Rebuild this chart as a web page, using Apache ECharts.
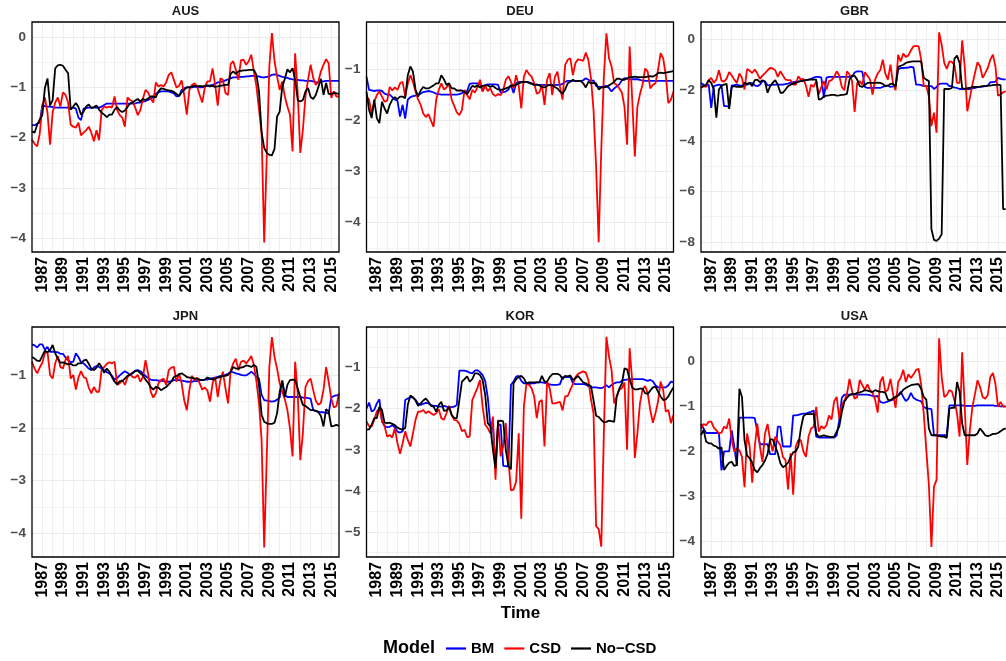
<!DOCTYPE html>
<html><head><meta charset="utf-8">
<script src="https://cdn.jsdelivr.net/npm/echarts@6/dist/echarts.min.js"></script>
<style>html,body{margin:0;padding:0;background:#fff}#c{width:1006px;height:661px}</style>
</head><body><div id="c"></div>
<script>
// Quarterly series, first observation 1986 Q1
const START_YEAR = 1986;
const QUARTERS_PER_YEAR = 4;
const countries = ['AUS','DEU','GBR','JPN','KOR','USA'];
const models = ['BM','CSD','No\u2212CSD'];
const xTickYears = [1987,1989,1991,1993,1995,1997,1999,2001,2003,2005,2007,2009,2011,2013,2015];

const AUS_BM = [-1.75,-1.75,-1.72,-1.7,-1.35,-1.37,-1.38,-1.38,-1.39,-1.4,
-1.4,-1.4,-1.4,-1.4,-1.4,-1.41,-1.4,-1.42,-1.6,-1.65,
-1.42,-1.41,-1.4,-1.4,-1.4,-1.4,-1.4,-1.38,-1.35,-1.32,
-1.32,-1.32,-1.32,-1.32,-1.32,-1.32,-1.32,-1.32,-1.32,-1.32,
-1.32,-1.3,-1.3,-1.28,-1.27,-1.25,-1.22,-1.2,-1.12,-1.1,
-1.08,-1.08,-1.08,-1.08,-1.1,-1.12,-1.18,-1.17,-1.05,-1.02,
-1.0,-1.0,-1.0,-0.99,-0.99,-1.0,-1.0,-0.98,-0.97,-0.96,
-0.95,-0.93,-0.9,-0.89,-0.88,-0.86,-0.84,-0.82,-0.8,-0.8,
-0.79,-0.79,-0.79,-0.78,-0.78,-0.77,-0.77,-0.78,-0.78,-0.8,
-0.8,-0.79,-0.78,-0.75,-0.74,-0.75,-0.77,-0.79,-0.8,-0.81,
-0.83,-0.84,-0.85,-0.85,-0.86,-0.86,-0.87,-0.87,-0.87,-0.88,
-0.9,-0.9,-0.88,-0.88,-0.87,-0.87,-0.87,-0.87,-0.87,-0.87];
const AUS_CSD = [-2.04,-2.12,-2.17,-1.92,-1.35,-1.2,-1.5,-2.14,-1.5,-1.3,
-1.2,-1.38,-1.1,-1.15,-1.3,-1.74,-1.78,-1.8,-1.7,-1.95,
-1.9,-1.85,-1.78,-1.9,-2.07,-1.85,-2.05,-1.45,-1.38,-1.4,
-1.38,-1.4,-1.18,-1.45,-1.55,-1.6,-1.78,-1.2,-1.25,-1.28,
-1.4,-1.55,-1.45,-1.22,-1.05,-1.1,-1.22,-1.3,-0.9,-0.98,
-0.95,-0.98,-0.9,-0.75,-0.7,-0.85,-1.0,-0.97,-0.86,-1.15,
-1.54,-1.05,-0.95,-0.92,-0.98,-1.15,-1.3,-1.0,-0.88,-0.88,
-0.62,-0.95,-1.36,-0.82,-0.85,-1.11,-1.15,-0.53,-0.48,-0.65,
-0.85,-0.46,-0.45,-0.55,-0.48,-0.35,-0.68,-0.98,-1.44,-1.9,
-4.08,-2.37,-0.58,0.08,-0.48,-0.78,-1.05,-0.88,-1.18,-1.38,
-1.54,-2.27,-0.32,-1.11,-2.3,-1.84,-1.18,-0.85,-0.55,-0.81,
-0.95,-0.88,-0.68,-0.55,-0.44,-0.52,-1.21,-1.08,-1.18,-1.18];
const AUS_NOCSD = [-1.87,-1.9,-1.74,-1.64,-1.55,-1.01,-0.82,-1.36,-1.25,-0.62,
-0.56,-0.55,-0.57,-0.65,-0.72,-1.44,-1.38,-1.31,-1.39,-1.54,
-1.48,-1.38,-1.34,-1.41,-1.39,-1.36,-1.44,-1.5,-1.54,-1.59,
-1.54,-1.54,-1.44,-1.39,-1.46,-1.49,-1.46,-1.39,-1.32,-1.3,
-1.26,-1.23,-1.28,-1.23,-1.25,-1.22,-1.18,-1.18,-1.2,-1.08,
-1.02,-1.03,-1.05,-1.06,-1.07,-1.09,-1.13,-1.17,-1.1,-1.05,
-1.0,-1.0,-0.98,-0.97,-0.98,-0.97,-0.98,-0.97,-0.96,-0.98,
-0.97,-0.99,-0.98,-0.97,-0.96,-0.95,-0.95,-0.73,-0.68,-0.73,
-0.68,-0.67,-0.66,-0.66,-0.65,-0.65,-0.65,-0.75,-1.08,-1.9,
-2.2,-2.3,-2.34,-2.35,-2.22,-1.58,-1.48,-0.99,-0.83,-0.64,
-0.7,-0.62,-0.85,-1.25,-1.28,-1.25,-1.08,-1.01,-1.19,-1.23,
-1.15,-0.99,-0.83,-1.15,-0.91,-1.13,-1.13,-1.11,-1.12,-1.13];

const DEU_BM = [-1.15,-1.41,-1.42,-1.43,-1.42,-1.42,-1.43,-1.48,-1.5,-1.5,
-1.55,-1.6,-1.62,-1.93,-1.7,-1.97,-1.6,-1.55,-1.53,-1.52,
-1.5,-1.48,-1.45,-1.44,-1.43,-1.44,-1.46,-1.48,-1.49,-1.5,
-1.5,-1.5,-1.5,-1.5,-1.5,-1.5,-1.49,-1.47,-1.44,-1.43,
-1.29,-1.28,-1.28,-1.28,-1.3,-1.43,-1.32,-1.3,-1.3,-1.3,
-1.3,-1.31,-1.46,-1.45,-1.44,-1.4,-1.31,-1.47,-1.28,-1.25,
-1.25,-1.25,-1.25,-1.26,-1.28,-1.31,-1.31,-1.31,-1.31,-1.31,
-1.31,-1.31,-1.31,-1.31,-1.31,-1.31,-1.29,-1.25,-1.23,-1.23,
-1.23,-1.23,-1.23,-1.23,-1.22,-1.18,-1.21,-1.24,-1.22,-1.33,
-1.35,-1.35,-1.34,-1.33,-1.37,-1.44,-1.38,-1.34,-1.3,-1.22,
-1.18,-1.19,-1.2,-1.2,-1.2,-1.2,-1.21,-1.23,-1.23,-1.23,
-1.23,-1.23,-1.23,-1.23,-1.23,-1.23,-1.23,-1.23,-1.23,-1.23];
const DEU_CSD = [-1.54,-1.6,-1.87,-1.64,-1.51,-1.44,-1.54,-1.64,-1.62,-1.35,
-1.42,-1.36,-1.41,-1.28,-1.25,-1.53,-1.29,-1.12,-1.25,-1.44,
-1.6,-1.7,-1.87,-1.94,-1.88,-2.01,-2.13,-1.6,-1.41,-1.28,
-1.4,-1.36,-1.29,-1.6,-1.72,-1.85,-1.9,-1.8,-1.41,-1.51,
-1.59,-1.41,-1.46,-1.36,-1.21,-1.44,-1.33,-1.43,-1.38,-1.49,
-1.53,-1.49,-1.51,-1.41,-1.21,-1.14,-1.25,-1.38,-1.12,-1.33,
-1.77,-1.15,-1.02,-1.1,-1.15,-1.28,-1.48,-1.46,-1.31,-1.7,
-1.21,-1.08,-1.51,-1.16,-1.05,-1.35,-1.6,-0.92,-0.82,-0.79,
-1.12,-0.88,-0.81,-0.82,-0.84,-0.68,-0.82,-1.18,-1.8,-2.91,
-4.39,-2.58,-1.15,-0.3,-0.79,-0.95,-1.28,-1.31,-1.38,-1.46,
-1.74,-2.48,-0.56,-1.6,-2.71,-1.74,-1.49,-1.31,-0.99,-1.05,
-1.38,-1.31,-1.28,-1.02,-0.69,-0.79,-1.12,-1.67,-1.6,-1.44];
const DEU_NOCSD = [-1.44,-1.8,-1.96,-1.6,-1.96,-2.06,-1.64,-1.77,-1.87,-1.7,
-1.6,-1.55,-1.59,-1.54,-1.54,-1.57,-1.12,-0.95,-1.05,-1.4,
-1.54,-1.42,-1.35,-1.38,-1.38,-1.35,-1.32,-1.28,-1.28,-1.12,
-1.2,-1.31,-1.28,-1.38,-1.38,-1.42,-1.42,-1.42,-1.45,-1.49,
-1.41,-1.33,-1.35,-1.32,-1.36,-1.33,-1.32,-1.32,-1.35,-1.33,
-1.37,-1.4,-1.41,-1.4,-1.38,-1.36,-1.33,-1.32,-1.31,-1.28,
-1.26,-1.25,-1.25,-1.27,-1.29,-1.31,-1.3,-1.32,-1.35,-1.36,
-1.33,-1.31,-1.32,-1.35,-1.38,-1.44,-1.48,-1.4,-1.28,-1.25,
-1.21,-1.24,-1.23,-1.23,-1.28,-1.36,-1.25,-1.28,-1.27,-1.28,
-1.4,-1.36,-1.36,-1.35,-1.32,-1.29,-1.25,-1.19,-1.19,-1.21,
-1.21,-1.18,-1.16,-1.16,-1.15,-1.16,-1.16,-1.16,-1.16,-1.15,
-1.14,-1.15,-1.12,-1.08,-1.07,-1.08,-1.07,-1.06,-1.05,-1.04];

const GBR_BM = [-1.71,-1.78,-1.84,-1.78,-2.7,-1.84,-1.81,-1.78,-1.81,-2.63,
-2.63,-2.66,-1.81,-1.8,-1.78,-1.81,-1.82,-1.81,-1.78,-1.72,
-1.72,-1.81,-1.84,-1.78,-1.64,-1.64,-1.81,-1.8,-1.79,-1.78,
-1.78,-1.78,-1.78,-1.76,-1.74,-1.7,-1.68,-1.66,-1.65,-1.64,
-1.62,-1.6,-1.58,-1.55,-1.5,-1.47,-1.47,-1.5,-2.3,-1.5,
-1.47,-1.47,-1.47,-1.47,-1.47,-1.47,-1.47,-1.47,-1.47,-1.47,
-1.3,-1.25,-1.25,-1.26,-1.87,-1.91,-1.91,-1.91,-1.91,-1.91,
-1.91,-1.87,-1.82,-1.82,-1.87,-1.85,-1.82,-1.18,-1.12,-1.12,
-1.11,-1.1,-1.08,-1.1,-1.78,-1.78,-1.8,-1.84,-1.84,-1.84,
-1.84,-1.95,-1.87,-1.75,-1.74,-1.74,-1.74,-1.84,-1.84,-1.9,
-1.91,-1.95,-1.95,-1.95,-1.95,-1.95,-1.93,-1.91,-1.88,-1.87,
-1.86,-1.84,-1.82,-1.68,-1.68,-1.66,-1.51,-1.55,-1.57,-1.57];
const GBR_CSD = [-1.91,-1.84,-1.87,-1.6,-1.51,-1.71,-1.58,-1.21,-1.62,-1.66,
-1.54,-1.28,-1.42,-1.58,-1.71,-1.34,-1.51,-1.97,-1.16,-1.22,
-1.32,-1.18,-1.34,-1.55,-1.42,-1.32,-1.21,-1.12,-1.14,-1.21,
-1.47,-1.25,-1.42,-1.58,-1.6,-1.6,-1.78,-1.78,-1.45,-1.58,
-1.55,-1.82,-2.26,-1.78,-1.87,-1.64,-2.17,-1.87,-1.64,-1.97,
-1.64,-1.6,-1.47,-1.25,-1.42,-1.87,-2.0,-1.25,-1.38,-1.64,
-2.86,-1.71,-1.64,-1.78,-1.29,-1.42,-1.58,-2.17,-1.58,-1.34,
-1.21,-0.79,-1.34,-1.58,-0.99,-1.74,-2.0,-0.6,-0.86,-0.55,
-0.68,-0.62,-0.42,-0.26,-0.24,-0.26,-0.79,-1.84,-1.84,-2.24,
-3.42,-2.89,-3.68,0.29,-0.2,-0.92,-1.16,-0.86,-0.88,-1.01,
-1.71,-1.71,-0.03,-1.05,-2.83,-2.3,-1.78,-1.32,-0.89,-1.05,
-1.51,-1.32,-1.12,-0.79,-0.59,-1.05,-2.21,-2.17,-2.08,-2.04];
const GBR_NOCSD = [-1.87,-1.84,-1.78,-1.6,-1.71,-1.97,-3.09,-1.97,-1.82,-1.78,
-1.75,-2.74,-1.87,-1.84,-1.87,-1.87,-1.87,-1.71,-1.75,-1.71,
-1.84,-1.6,-1.58,-1.68,-1.6,-1.68,-2.1,-1.84,-1.71,-1.6,
-1.78,-2.1,-2.1,-1.97,-1.84,-1.78,-1.74,-1.71,-1.67,-1.64,
-1.62,-1.6,-1.58,-1.58,-1.58,-1.58,-2.37,-2.34,-2.24,-2.21,
-2.2,-2.18,-2.18,-2.21,-2.2,-2.18,-2.17,-2.14,-1.58,-1.42,
-1.43,-1.58,-1.84,-1.87,-1.78,-1.71,-1.71,-1.71,-1.71,-1.7,
-1.71,-1.75,-1.84,-1.82,-1.75,-1.74,-1.87,-1.08,-1.03,-0.99,
-0.92,-0.89,-0.87,-0.86,-0.86,-0.86,-0.86,-1.51,-1.58,-1.64,
-7.5,-7.92,-7.96,-7.87,-7.7,-1.95,-1.95,-1.95,-1.91,-0.75,
-0.63,-0.92,-1.91,-1.95,-1.92,-1.91,-1.87,-1.87,-1.87,-1.86,
-1.84,-1.84,-1.82,-1.82,-1.8,-1.79,-1.78,-1.8,-6.7,-6.7];

const JPN_BM = [-0.41,-0.43,-0.47,-0.41,-0.41,-0.51,-0.46,-0.55,-0.55,-0.56,
-0.56,-0.59,-0.59,-0.66,-0.71,-0.75,-0.74,-0.58,-0.65,-0.75,
-0.77,-0.82,-0.87,-0.9,-0.85,-0.82,-0.84,-0.87,-0.9,-0.94,
-0.96,-1.01,-1.08,-1.05,-1.0,-0.96,-0.92,-0.95,-0.99,-0.96,
-0.91,-0.9,-0.92,-0.96,-1.01,-1.05,-1.08,-1.09,-1.09,-1.1,
-1.1,-1.11,-1.12,-1.12,-1.11,-1.09,-1.09,-1.09,-1.1,-1.11,
-1.12,-1.12,-1.12,-1.11,-1.11,-1.09,-1.09,-1.08,-1.08,-1.06,
-1.05,-1.04,-1.03,-1.01,-1.01,-0.99,-0.97,-0.93,-0.94,-0.96,
-0.97,-0.99,-1.0,-1.0,-0.97,-0.93,-0.97,-1.03,-1.06,-1.37,
-1.47,-1.48,-1.49,-1.5,-1.49,-1.46,-1.42,-1.1,-1.37,-1.41,
-1.41,-1.41,-1.41,-1.41,-1.41,-1.42,-1.42,-1.43,-1.44,-1.66,
-1.68,-1.69,-1.7,-1.7,-1.71,-1.72,-1.42,-1.39,-1.38,-1.37];
const JPN_CSD = [-0.74,-0.87,-0.96,-0.85,-0.76,-0.58,-0.55,-0.99,-1.06,-0.77,
-0.63,-0.84,-0.87,-0.7,-0.63,-1.06,-0.99,-1.27,-1.04,-0.92,
-1.03,-1.06,-1.23,-1.34,-1.22,-1.31,-1.31,-0.89,-0.84,-0.78,
-0.75,-0.77,-0.74,-1.18,-1.15,-1.09,-1.18,-1.04,-0.97,-1.03,
-1.04,-0.99,-1.12,-1.03,-0.71,-0.96,-1.31,-1.42,-1.34,-1.15,
-1.09,-1.06,-1.18,-0.9,-0.85,-0.84,-1.12,-0.97,-1.15,-1.47,
-1.66,-1.28,-1.01,-1.09,-1.04,-1.15,-1.27,-1.23,-1.29,-1.5,
-1.15,-1.03,-1.41,-1.09,-0.93,-1.25,-1.53,-0.91,-0.77,-0.68,
-0.9,-0.74,-0.72,-0.77,-0.71,-0.63,-0.8,-1.12,-1.53,-2.23,
-4.27,-2.54,-0.84,-0.27,-0.65,-0.87,-1.15,-1.31,-1.45,-1.66,
-2.01,-2.54,-0.74,-1.34,-2.61,-2.1,-1.22,-1.11,-1.06,-1.28,
-1.48,-1.56,-1.52,-1.27,-0.84,-1.12,-1.44,-1.61,-1.58,-1.34];
const JPN_NOCSD = [-0.65,-0.68,-0.72,-0.73,-0.63,-0.53,-0.56,-0.52,-0.42,-0.58,
-0.68,-0.76,-0.75,-0.77,-0.79,-0.78,-0.81,-0.81,-0.77,-0.77,
-0.72,-0.7,-0.78,-0.87,-0.9,-0.85,-0.77,-0.84,-0.95,-0.87,
-0.93,-1.03,-1.12,-1.17,-1.11,-1.11,-1.06,-1.01,-0.99,-0.95,
-0.92,-0.91,-0.96,-1.0,-1.08,-1.14,-1.22,-1.27,-1.22,-1.23,
-1.28,-1.25,-1.22,-1.17,-1.12,-1.03,-1.01,-0.98,-0.96,-0.99,
-1.03,-1.04,-1.04,-1.06,-1.06,-1.08,-1.09,-1.08,-1.04,-1.06,
-1.08,-1.06,-1.04,-1.03,-1.01,-1.01,-0.99,-0.93,-0.84,-0.87,
-0.87,-0.85,-0.84,-0.81,-0.82,-0.84,-0.8,-0.84,-1.2,-1.75,
-1.88,-1.91,-1.92,-1.92,-1.9,-1.72,-1.31,-1.1,-1.41,-1.18,
-1.09,-1.08,-1.09,-1.25,-1.41,-1.56,-1.58,-1.62,-1.66,-1.66,
-1.67,-1.7,-1.77,-1.97,-1.64,-1.69,-1.97,-1.96,-1.94,-1.96];

const KOR_BM = [-2.0,-1.85,-2.07,-2.03,-1.87,-1.77,-2.31,-2.42,-2.45,-2.44,
-2.4,-2.45,-2.56,-2.58,-2.55,-1.79,-1.75,-1.72,-1.73,-1.78,
-1.87,-1.91,-1.88,-1.86,-1.87,-1.91,-1.93,-1.93,-1.95,-1.95,
-1.93,-1.95,-1.96,-1.96,-1.95,-1.91,-1.07,-1.07,-1.07,-1.09,
-1.12,-1.14,-1.07,-1.06,-1.11,-1.18,-1.32,-1.72,-2.39,-2.42,
-3.45,-2.39,-2.39,-3.39,-3.4,-3.4,-1.42,-1.34,-1.22,-1.2,
-1.32,-1.38,-1.38,-1.4,-1.38,-1.38,-1.36,-1.36,-1.36,-1.37,
-1.38,-1.41,-1.42,-1.42,-1.42,-1.4,-1.23,-1.23,-1.23,-1.23,
-1.38,-1.4,-1.4,-1.4,-1.4,-1.41,-1.45,-1.48,-1.48,-1.48,
-1.49,-1.5,-1.47,-1.43,-1.48,-1.42,-1.38,-1.36,-1.36,-1.32,
-1.3,-1.29,-1.28,-1.28,-1.28,-1.28,-1.28,-1.28,-1.3,-1.32,
-1.3,-1.33,-1.43,-1.48,-1.48,-1.48,-1.48,-1.43,-1.34,-1.36];
const KOR_CSD = [-2.31,-2.43,-2.43,-2.27,-2.07,-1.99,-2.29,-2.42,-2.68,-2.64,
-2.7,-2.47,-2.84,-3.1,-2.84,-2.55,-2.76,-2.92,-2.6,-2.27,
-2.07,-2.07,-2.03,-2.11,-2.06,-2.11,-2.15,-2.11,-2.01,-2.23,
-2.27,-2.11,-1.93,-2.15,-2.27,-2.29,-2.37,-2.55,-2.51,-2.69,
-2.68,-1.79,-1.64,-1.49,-1.3,-1.95,-2.39,-2.47,-2.6,-2.19,
-3.73,-2.27,-3.16,-2.92,-2.35,-3.24,-3.99,-3.97,-3.77,-2.6,
-4.68,-1.95,-1.38,-1.42,-1.5,-1.7,-2.23,-1.83,-1.79,-2.92,
-1.34,-1.5,-1.87,-1.87,-1.85,-1.83,-2.04,-1.7,-1.69,-1.54,
-1.4,-1.23,-1.15,-1.12,-1.09,-1.12,-1.3,-1.77,-2.11,-4.86,
-4.93,-5.36,-2.6,-0.25,-0.73,-1.06,-1.87,-1.7,-1.54,-1.5,
-1.36,-3.0,-0.53,-1.34,-3.2,-2.6,-1.87,-1.53,-1.45,-1.62,
-2.03,-2.34,-2.11,-1.83,-1.34,-1.54,-2.07,-2.03,-2.35,-2.15];
const KOR_NOCSD = [-2.51,-2.5,-2.39,-2.23,-2.23,-1.95,-2.03,-2.34,-2.35,-2.34,
-2.37,-2.4,-2.46,-2.49,-2.51,-2.47,-1.91,-1.68,-1.72,-1.8,
-1.93,-1.87,-1.8,-1.75,-1.83,-1.93,-1.95,-2.07,-1.91,-1.83,
-2.05,-2.04,-1.96,-2.15,-2.23,-2.23,-1.79,-1.34,-1.28,-1.21,
-1.34,-1.28,-1.14,-1.14,-1.18,-1.3,-1.66,-2.35,-2.43,-3.0,
-3.45,-2.31,-2.29,-2.31,-3.0,-3.4,-3.47,-1.38,-1.28,-1.23,
-1.2,-1.26,-1.38,-1.36,-1.36,-1.36,-1.36,-1.36,-1.2,-1.34,
-1.34,-1.23,-1.16,-1.15,-1.15,-1.18,-1.28,-1.2,-1.21,-1.19,
-1.3,-1.26,-1.2,-1.28,-1.36,-1.38,-1.42,-1.45,-1.79,-2.17,
-2.2,-2.27,-2.33,-2.32,-2.29,-2.3,-2.32,-1.7,-1.51,-1.38,
-1.02,-1.04,-1.28,-1.48,-1.53,-1.53,-1.51,-1.51,-1.62,-1.64,
-1.56,-1.48,-1.46,-1.58,-1.7,-1.79,-1.77,-1.7,-1.58,-1.48];

const USA_BM = [-1.4,-1.5,-1.6,-1.6,-1.6,-1.6,-1.6,-1.61,-2.43,-2.01,
-2.01,-2.01,-1.54,-1.9,-2.33,-1.26,-1.26,-1.26,-1.26,-1.26,
-1.26,-1.27,-1.57,-1.85,-1.85,-1.85,-1.85,-2.07,-2.07,-2.07,
-1.46,-1.46,-1.9,-1.9,-1.9,-1.9,-1.21,-1.21,-1.2,-1.18,
-1.17,-1.17,-1.15,-1.13,-1.1,-1.68,-1.7,-1.7,-1.7,-1.7,
-1.7,-1.7,-1.7,-1.65,-1.32,-0.82,-0.75,-0.75,-0.75,-0.75,
-0.75,-0.75,-0.75,-0.75,-0.75,-0.75,-0.76,-0.78,-0.79,-0.78,
-0.91,-0.93,-0.92,-0.9,-0.88,-0.86,-0.82,-0.76,-0.69,-0.8,
-0.89,-0.84,-0.71,-0.82,-0.86,-0.88,-0.9,-1.02,-1.06,-1.06,
-1.07,-1.65,-1.65,-1.65,-1.65,-1.65,-1.65,-0.99,-0.99,-0.99,
-0.99,-0.99,-0.99,-1.0,-1.0,-1.0,-1.0,-1.0,-0.99,-0.99,
-0.99,-0.99,-0.99,-0.99,-0.99,-1.0,-1.0,-1.01,-1.01,-1.01];
const USA_CSD = [-1.5,-1.4,-1.43,-1.35,-1.35,-1.48,-1.54,-1.61,-1.59,-1.46,
-1.5,-1.28,-1.76,-2.01,-1.94,-1.98,-2.13,-2.8,-1.61,-1.9,
-2.7,-1.9,-1.39,-1.9,-2.24,-1.61,-1.4,-1.76,-2.01,-1.68,
-1.79,-1.87,-2.13,-2.2,-2.85,-2.05,-2.97,-1.9,-1.76,-1.76,
-2.01,-2.13,-1.68,-1.5,-1.46,-1.02,-1.57,-1.45,-1.5,-1.43,
-1.21,-1.3,-0.9,-0.8,-1.28,-0.99,-0.88,-0.74,-0.4,-0.67,
-0.84,-0.8,-0.42,-0.54,-0.64,-0.52,-0.65,-0.71,-0.86,-1.15,
-0.47,-0.35,-0.69,-0.64,-0.4,-0.73,-1.04,-0.47,-0.38,-0.2,
-0.47,-0.3,-0.38,-0.3,-0.2,-0.18,-0.54,-1.17,-1.98,-2.75,
-4.13,-2.79,-2.64,0.5,-0.36,-0.8,-0.76,-0.65,-0.68,-0.88,
-1.17,-1.68,0.19,-1.02,-2.31,-1.54,-1.02,-0.74,-0.43,-0.58,
-0.8,-0.84,-0.76,-0.36,-0.27,-0.51,-1.02,-0.91,-1.01,-1.02];
const USA_NOCSD = [-1.65,-1.53,-1.79,-1.83,-1.83,-1.88,-1.9,-1.95,-1.92,-2.42,
-2.33,-2.26,-2.24,-2.33,-2.31,-0.62,-0.8,-1.76,-2.1,-2.16,
-2.26,-2.42,-2.47,-2.38,-2.31,-2.21,-2.07,-1.74,-1.74,-1.89,
-2.05,-2.27,-2.36,-2.32,-2.26,-2.13,-2.03,-2.01,-1.9,-1.5,
-1.23,-1.18,-1.18,-1.18,-1.17,-1.61,-1.68,-1.67,-1.65,-1.67,
-1.68,-1.69,-1.68,-1.57,-1.46,-1.13,-0.91,-0.82,-0.76,-0.73,
-0.74,-0.71,-0.7,-0.68,-0.65,-0.66,-0.68,-0.69,-0.65,-0.67,
-0.69,-0.69,-0.71,-0.86,-0.88,-0.83,-0.8,-0.77,-0.72,-0.64,
-0.6,-0.57,-0.54,-0.53,-0.52,-0.52,-0.62,-0.8,-0.86,-1.5,
-1.65,-1.65,-1.65,-1.67,-1.68,-1.68,-1.71,-1.06,-1.04,-1.04,
-0.47,-0.69,-1.39,-1.65,-1.65,-1.65,-1.65,-1.65,-1.61,-1.5,
-1.57,-1.65,-1.67,-1.65,-1.62,-1.62,-1.6,-1.56,-1.52,-1.5];

const panelData = {
  AUS: [AUS_BM, AUS_CSD, AUS_NOCSD],
  DEU: [DEU_BM, DEU_CSD, DEU_NOCSD],
  GBR: [GBR_BM, GBR_CSD, GBR_NOCSD],
  JPN: [JPN_BM, JPN_CSD, JPN_NOCSD],
  KOR: [KOR_BM, KOR_CSD, KOR_NOCSD],
  USA: [USA_BM, USA_CSD, USA_NOCSD]
};
// axis limits (free y scales per panel) and major tick step
const yLimits = {AUS:[-4.27,0.30], DEU:[-4.58,-0.08], GBR:[-8.40,0.70], JPN:[-4.45,-0.08], KOR:[-5.61,-0.01], USA:[-4.35,0.75]};
const yStep = {AUS:1, DEU:1, GBR:2, JPN:1, KOR:1, USA:1};

// ---------- layout / styling ----------
const FONT = '"Liberation Sans", Arial, Helvetica, sans-serif';
const COLORS = ['#0000ff', '#ff0000', '#000000'];
const PW = 307, PH = 230;
const panelPos = [[32,22],[366.5,22],[701,22],[32,327],[366.5,327],[701,327]];
const GRID = '#ebebeb';

const grids = [], xAxes = [], yAxes = [], series = [], graphics = [];
const isMultiple = (v, s) => Math.abs(v / s - Math.round(v / s)) < 1e-6;

countries.forEach((c, k) => {
  const [L, T] = panelPos[k];
  const [ymin, ymax] = yLimits[c];
  const step = yStep[c];
  grids.push({left: L, top: T, width: PW, height: PH, show: true, borderWidth: 0, backgroundColor: '#fff'});
  xAxes.push({
    type: 'value', gridIndex: k, min: START_YEAR, max: START_YEAR + 119 / QUARTERS_PER_YEAR, interval: 1,
    axisLine: {show: false}, axisTick: {show: false},
    axisLabel: {rotate: 90, margin: 5, fontFamily: FONT, fontWeight: 'bold', fontSize: 16, color: '#000',
      formatter: v => xTickYears.includes(v) ? String(v) : ''},
    splitLine: {show: true, showMinLine: false, showMaxLine: false, lineStyle: {color: GRID, width: 0.8}}
  });
  yAxes.push({
    type: 'value', gridIndex: k, min: ymin, max: ymax,
    axisLine: {show: false}, axisTick: {show: false},
    axisLabel: {margin: 6, fontFamily: FONT, fontWeight: 'bold', fontSize: 13.5, color: '#4d4d4d',
      formatter: v => isMultiple(v, step) ? String(Math.round(v)).replace('-', '\u2212') : ''},
    splitLine: {show: true, showMinLine: false, showMaxLine: false, lineStyle: {color: GRID, width: 1}}
  });
  // minor horizontal grid lines (half steps)
  const half = step / 2, minor = [];
  for (let j = Math.ceil(ymin / half); j <= Math.floor(ymax / half); j++) {
    const v = j * half;
    if (!isMultiple(v, step) && v > ymin && v < ymax) minor.push({yAxis: v});
  }
  panelData[c].forEach((arr, m) => {
    const s = {
      name: models[m], type: 'line', xAxisIndex: k, yAxisIndex: k,
      data: arr.map((v, i) => [START_YEAR + i / QUARTERS_PER_YEAR, v]),
      showSymbol: false, symbol: 'none', clip: true, animation: false,
      lineStyle: {color: COLORS[m], width: 1.8}, itemStyle: {color: COLORS[m]},
      emphasis: {disabled: true}, z: 3 + m
    };
    if (m === 0) {
      s.markLine = {silent: true, z: 1, symbol: ['none','none'], label: {show: false}, animation: false,
        emphasis: {disabled: true}, lineStyle: {color: GRID, width: 0.6, type: 'solid'}, data: minor};
    }
    series.push(s);
  });
  // panel border drawn on top of grid lines and series
  graphics.push({type: 'rect', z: 100, silent: true,
    shape: {x: L, y: T, width: PW, height: PH},
    style: {fill: null, stroke: '#000', lineWidth: 1.3}});
  graphics.push({type: 'text', x: L + PW / 2, y: T - 11,
    style: {text: c, align: 'center', verticalAlign: 'middle', font: 'bold 13px ' + FONT, fill: '#1a1a1a'}});
});

graphics.push({type: 'text', x: 520.5, y: 613, style: {text: 'Time', align: 'center', verticalAlign: 'middle', font: 'bold 17px ' + FONT, fill: '#000'}});
graphics.push({type: 'text', x: 383, y: 648.5, style: {text: 'Model', align: 'left', verticalAlign: 'middle', font: 'bold 18px ' + FONT, fill: '#000'}});

const chart = echarts.init(document.getElementById('c'), null, {renderer: 'canvas'});
chart.setOption({
  animation: false,
  backgroundColor: '#fff',
  grid: grids, xAxis: xAxes, yAxis: yAxes, series: series,
  legend: {data: models, left: 441, top: 636, padding: 5, icon: 'rect', itemWidth: 20, itemHeight: 2.2, itemGap: 10,
    selectedMode: false,
    textStyle: {fontFamily: FONT, fontWeight: 'bold', fontSize: 15, color: '#000'}},
  graphic: graphics
});
</script></body></html>
